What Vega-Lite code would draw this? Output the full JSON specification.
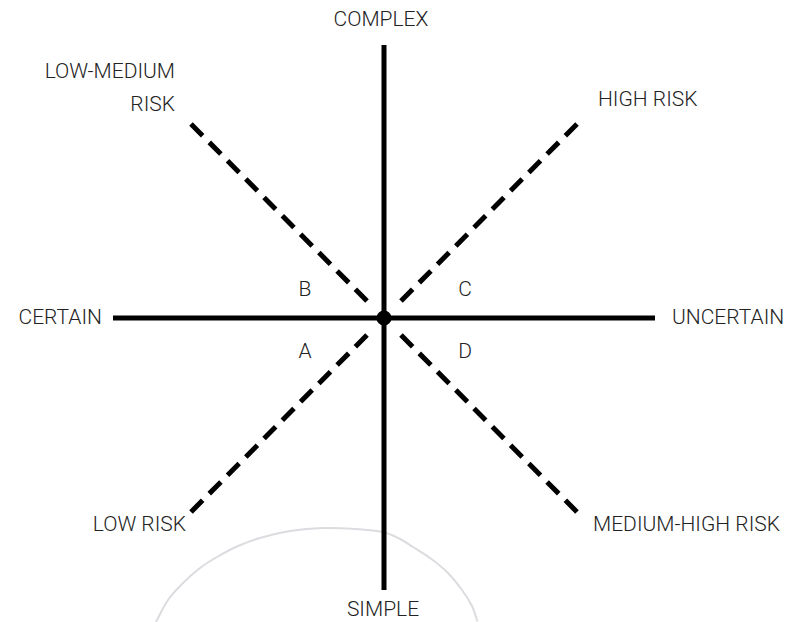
{
  "$schema": "https://vega.github.io/schema/vega-lite/v6.json",
  "width": 793,
  "height": 622,
  "autosize": {"type": "fit", "contains": "padding"},
  "padding": 0,
  "background": "white",
  "config": {"view": {"stroke": null}},
  "datasets": {
    "arc": [
      {"x": -228, "y": -304}, {"x": -227, "y": -302}, {"x": -216, "y": -282}, {"x": -201, "y": -265},
      {"x": -184, "y": -250}, {"x": -167, "y": -239}, {"x": -146, "y": -228}, {"x": -124, "y": -220},
      {"x": -94, "y": -213}, {"x": -61, "y": -210}, {"x": -29, "y": -211}, {"x": -1, "y": -214},
      {"x": 16, "y": -221}, {"x": 29, "y": -229}, {"x": 46, "y": -240}, {"x": 63, "y": -254},
      {"x": 78, "y": -272}, {"x": 88, "y": -288}, {"x": 93, "y": -302}, {"x": 94, "y": -304}
    ],
    "solid": [
      {"x": 0, "y": 273, "x2": 0, "y2": -272},
      {"x": -271, "y": 0, "x2": 271, "y2": 0}
    ],
    "dash": [
      {"x": -193, "y": 194, "x2": -13, "y2": 13},
      {"x": 193, "y": 194, "x2": 13, "y2": 13},
      {"x": -193, "y": -194, "x2": -13, "y2": -13},
      {"x": 193, "y": -194, "x2": 13, "y2": -13}
    ],
    "center": [{"x": 0, "y": 0}],
    "labels": [
      {"label": "COMPLEX", "x": -3, "y": 298, "al": "center"},
      {"label": "SIMPLE", "x": -1, "y": -292, "al": "center"},
      {"label": "B", "x": -79, "y": 28, "al": "center"},
      {"label": "C", "x": 81, "y": 28, "al": "center"},
      {"label": "A", "x": -79, "y": -34, "al": "center"},
      {"label": "D", "x": 81, "y": -34, "al": "center"},
      {"label": "LOW-MEDIUM", "x": -209, "y": 246, "al": "right"},
      {"label": "RISK", "x": -209, "y": 213, "al": "right"},
      {"label": "CERTAIN", "x": -282, "y": 0, "al": "right"},
      {"label": "LOW RISK", "x": -198, "y": -207, "al": "right"},
      {"label": "HIGH RISK", "x": 214, "y": 218, "al": "left"},
      {"label": "UNCERTAIN", "x": 288, "y": 0, "al": "left"},
      {"label": "MEDIUM-HIGH RISK", "x": 209, "y": -207, "al": "left"}
    ]
  },
  "encoding": {
    "x": {"field": "x", "type": "quantitative", "scale": {"domain": [-384, 409], "nice": false, "zero": false}, "axis": null},
    "y": {"field": "y", "type": "quantitative", "scale": {"domain": [-304, 318], "nice": false, "zero": false}, "axis": null}
  },
  "layer": [
    {
      "data": {"name": "arc"},
      "mark": {"type": "line", "color": "#dcdce0", "strokeWidth": 2, "interpolate": "cardinal", "clip": true},
      "encoding": {"order": {"field": "x", "type": "quantitative"}}
    },
    {
      "data": {"name": "dash"},
      "mark": {"type": "rule", "color": "#000000", "strokeWidth": 5, "strokeCap": "butt", "strokeDash": [16.5, 9.4]},
      "encoding": {
        "x2": {"field": "x2"},
        "y2": {"field": "y2"}
      }
    },
    {
      "data": {"name": "solid"},
      "mark": {"type": "rule", "color": "#000000", "strokeWidth": 5, "strokeCap": "butt"},
      "encoding": {
        "x2": {"field": "x2"},
        "y2": {"field": "y2"}
      }
    },
    {
      "data": {"name": "center"},
      "mark": {"type": "point", "shape": "circle", "filled": true, "color": "#000000", "opacity": 1, "size": 230}
    },
    {
      "data": {"name": "labels"},
      "transform": [{"filter": "datum.al === 'center'"}],
      "mark": {"type": "text", "align": "center", "baseline": "middle", "font": "Roboto", "fontWeight": 300, "fontSize": 21, "color": "#222222"},
      "encoding": {"text": {"field": "label"}}
    },
    {
      "data": {"name": "labels"},
      "transform": [{"filter": "datum.al === 'right'"}],
      "mark": {"type": "text", "align": "right", "baseline": "middle", "font": "Roboto", "fontWeight": 300, "fontSize": 21, "color": "#222222"},
      "encoding": {"text": {"field": "label"}}
    },
    {
      "data": {"name": "labels"},
      "transform": [{"filter": "datum.al === 'left'"}],
      "mark": {"type": "text", "align": "left", "baseline": "middle", "font": "Roboto", "fontWeight": 300, "fontSize": 21, "color": "#222222"},
      "encoding": {"text": {"field": "label"}}
    }
  ]
}
